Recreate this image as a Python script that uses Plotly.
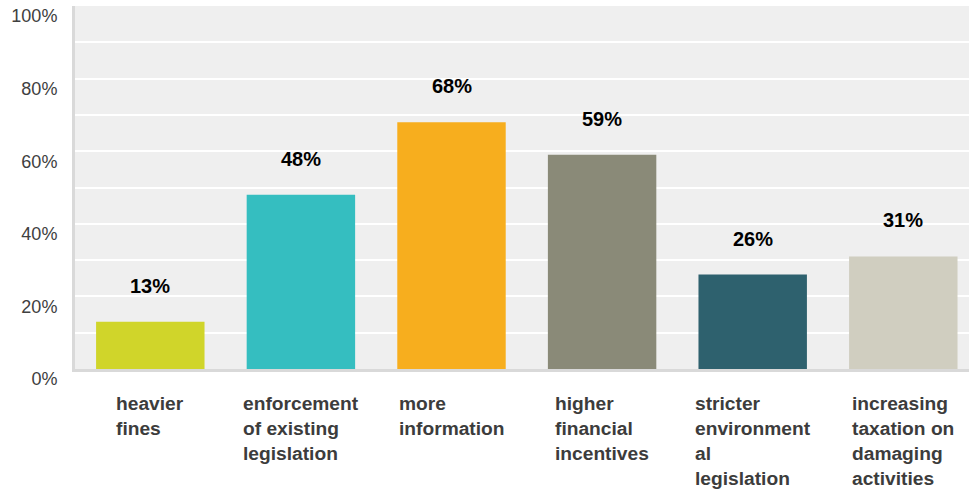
import plotly.graph_objects as go

# Survey results: share of respondents favouring each measure
categories = [
    "heavier<br>fines",
    "enforcement<br>of existing<br>legislation",
    "more<br>information",
    "higher<br>financial<br>incentives",
    "stricter<br>environment<br>al<br>legislation",
    "increasing<br>taxation on<br>damaging<br>activities",
]
values = [13, 48, 68, 59, 26, 31]
bar_colors = ["#d0d52a", "#35bec0", "#f7ae1e", "#8a8a78", "#2e616e", "#d0cec0"]
y_ticks = [0, 20, 40, 60, 80, 100]
y_tick_labels = ["0%", "20%", "40%", "60%", "80%", "100%"]

x_pos = list(range(len(categories)))

fig = go.Figure()
fig.add_trace(go.Bar(
    x=x_pos,
    y=values,
    marker=dict(color=bar_colors, line=dict(width=0)),
    width=0.72,
    hoverinfo="skip",
))

annotations = []
# value labels above bars
for xi, v in zip(x_pos, values):
    annotations.append(dict(
        x=xi, y=v, xref="x", yref="y",
        text=f"{v}%", showarrow=False,
        yanchor="middle", yshift=36,
        font=dict(family="Liberation Sans, Arial, sans-serif", size=20,
                  color="#000000", weight="bold"),
    ))
# category labels below the axis, left-aligned blocks centred under each bar
for xi, label in zip(x_pos, categories):
    annotations.append(dict(
        x=xi, y=0, xref="x", yref="y",
        text=label, showarrow=False,
        xanchor="center", yanchor="top", align="left",
        yshift=-22,
        font=dict(family="Liberation Sans, Arial, sans-serif", size=19.2,
                  color="#3c3c3c", weight="bold"),
    ))

fig.update_layout(
    width=969, height=493,
    margin=dict(l=75, r=0, t=6, b=124, pad=0),
    paper_bgcolor="#ffffff",
    plot_bgcolor="#efefef",
    showlegend=False,
    annotations=annotations,
    font=dict(family="Liberation Sans, Arial, sans-serif", size=18, color="#404040"),
)
fig.update_xaxes(
    range=[-0.5, -0.5 + 894 / 150.6],
    showticklabels=False,
    showgrid=False,
    zeroline=False,
    showline=True, linecolor="#d9d9d9", linewidth=3,
    fixedrange=True,
)
fig.update_yaxes(
    range=[0, 100],
    tickvals=y_ticks,
    ticktext=y_tick_labels,
    ticks="",
    ticklabelstandoff=11,
    ticklabelshift=10,
    showgrid=True, gridcolor="#ffffff", gridwidth=2,
    minor=dict(dtick=10, showgrid=True, gridcolor="#ffffff", gridwidth=2),
    zeroline=False,
    showline=True, linecolor="#d9d9d9", linewidth=3,
    tickfont=dict(size=18, color="#404040"),
    fixedrange=True,
)

fig.write_html("out.html")
